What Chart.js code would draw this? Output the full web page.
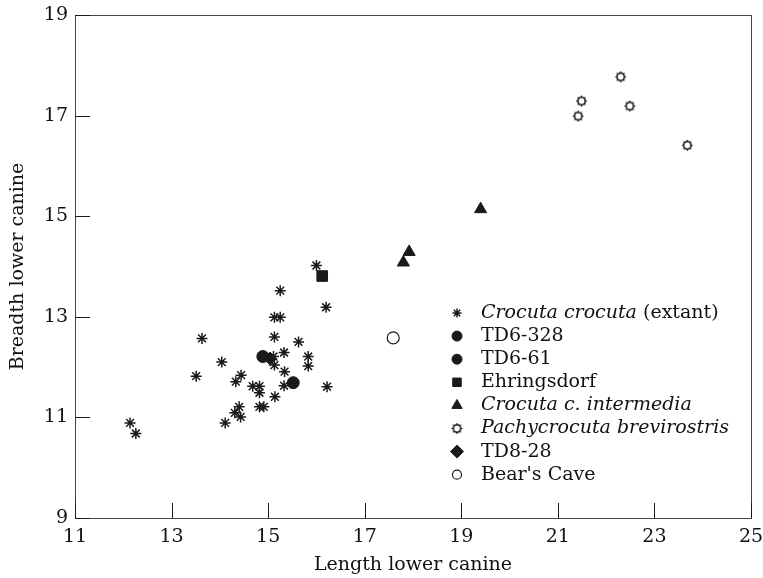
<!DOCTYPE html>
<html>
<head>
<meta charset="utf-8">
<script src="https://cdn.jsdelivr.net/npm/chart.js@4.4.0/dist/chart.umd.min.js"></script>
<style>
  html, body { margin: 0; padding: 0; background: #fff; }
  #wrap { width: 763px; height: 578px; position: relative; }
</style>
</head>
<body>
<div id="wrap"><canvas id="scatterChart"></canvas></div>
<script>
// tick labels
const xTicks = [11, 13, 15, 17, 19, 21, 23, 25];
const yTicks = [9, 11, 13, 15, 17, 19];

// Crocuta crocuta (extant)
const crocutaX = [16.0, 15.25, 16.2, 15.13, 15.25, 13.63, 15.13, 15.63, 15.33, 15.11, 15.13, 15.83, 15.83, 14.04, 15.34, 13.51,
  14.44, 14.33, 14.68, 14.82, 14.82, 15.33, 16.22, 15.14, 14.82, 14.91, 14.4, 14.31, 14.43, 14.11, 12.14, 12.26];
const crocutaY = [14.02, 13.52, 13.19, 12.99, 12.99, 12.57, 12.6, 12.5, 12.29, 12.21, 12.04, 12.21, 12.02, 12.1, 11.91, 11.82,
  11.84, 11.71, 11.62, 11.62, 11.49, 11.63, 11.61, 11.41, 11.21, 11.21, 11.21, 11.09, 11.01, 10.89, 10.89, 10.68];

const td6328X = [14.89];
const td6328Y = [12.21];
const td661X = [15.52];
const td661Y = [11.69];
const ehringsdorfX = [16.12];
const ehringsdorfY = [13.81];
const intermediaX = [17.92, 17.8, 19.4];
const intermediaY = [14.29, 14.08, 15.14];
const pachyX = [22.3, 21.49, 22.49, 21.42, 23.68];
const pachyY = [17.77, 17.29, 17.19, 16.99, 16.41];
const td828X = [15.04];
const td828Y = [12.17];
const bearsCaveX = [17.59];
const bearsCaveY = [12.58];

// legend text, [text, italic] pieces
const legendText = [
  [['Crocuta crocuta', true], [' (extant)', false]],
  [['TD6-328', false]],
  [['TD6-61', false]],
  [['Ehringsdorf', false]],
  [['Crocuta c. intermedia', true]],
  [['Pachycrocuta brevirostris', true]],
  [['TD8-28', false]],
  [["Bear's Cave", false]]
];

const ink = '#1a1a1a';
const fontFamily = '"DejaVu Serif", serif';
const fontSize = 19;

const zip = (xs, ys) => xs.map((x, i) => ({ x: x, y: ys[i] }));

const makeSunMarker = () => {
  const c = document.createElement('canvas');
  c.width = 13;
  c.height = 13;
  const g = c.getContext('2d');
  g.fillStyle = '#fff';
  g.strokeStyle = ink;
  g.lineWidth = 1.6;
  g.beginPath();
  g.arc(6.5, 6.5, 3.7, 0, Math.PI * 2);
  g.fill();
  g.stroke();
  g.lineWidth = 1.2;
  for (let k = 0; k < 8; k++) {
    const a = k * Math.PI / 4;
    g.beginPath();
    g.moveTo(6.5 + Math.cos(a) * 3.7, 6.5 + Math.sin(a) * 3.7);
    g.lineTo(6.5 + Math.cos(a) * 5.5, 6.5 + Math.sin(a) * 5.5);
    g.stroke();
  }
  return c;
};
const sunMarker = makeSunMarker();

const series = (label, data, style, radius, legendRadius, filled = true, borderWidth = 1) => ({
  label: label,
  data: data,
  pointStyle: style,
  pointRadius: radius,
  legendRadius: legendRadius,
  pointBackgroundColor: filled ? ink : '#fff',
  pointBorderColor: ink,
  pointBorderWidth: borderWidth,
  showLine: false
});

const datasets = [
  series('Crocuta crocuta (extant)', zip(crocutaX, crocutaY), 'star', 5.5, 4.5, true, 1.5),
  series('TD6-328', zip(td6328X, td6328Y), 'circle', 6, 5),
  series('TD6-61', zip(td661X, td661Y), 'circle', 6, 5),
  series('Ehringsdorf', zip(ehringsdorfX, ehringsdorfY), 'rect', 7.5, 6),
  series('Crocuta c. intermedia', zip(intermediaX, intermediaY), 'triangle', 7, 6),
  series('Pachycrocuta brevirostris', zip(pachyX, pachyY), sunMarker, 5, 5, false),
  series('TD8-28', zip(td828X, td828Y), 'rectRot', 6.5, 6.5),
  series("Bear's Cave", zip(bearsCaveX, bearsCaveY), 'circle', 6, 4.5, false, 1.2)
];

// inward ticks, box frame and the mixed italic legend
const framePlugin = {
  id: 'frame',
  afterDatasetsDraw(chart) {
    const { ctx, chartArea: a, scales } = chart;
    ctx.save();
    ctx.strokeStyle = '#444';
    ctx.lineWidth = 1;
    ctx.strokeRect(a.left + 0.5, a.top + 0.5, a.right - a.left, a.bottom - a.top);
    ctx.strokeStyle = ink;
    ctx.beginPath();
    xTicks.forEach(v => {
      const px = Math.round(scales.x.getPixelForValue(v)) + 0.5;
      ctx.moveTo(px, a.bottom);
      ctx.lineTo(px, a.bottom - 15);
    });
    yTicks.forEach(v => {
      const py = Math.round(scales.y.getPixelForValue(v)) + 0.5;
      ctx.moveTo(a.left, py);
      ctx.lineTo(a.left + 15, py);
    });
    ctx.stroke();

    // legend
    const markX = 457, textX = 481, startY = 313, rowGap = 23.1;
    ctx.textBaseline = 'middle';
    chart.data.datasets.forEach((ds, i) => {
      const y = startY + i * rowGap;
      ctx.fillStyle = ds.pointBackgroundColor;
      ctx.strokeStyle = ds.pointBorderColor;
      ctx.lineWidth = ds.pointBorderWidth;
      Chart.helpers.drawPoint(ctx, { pointStyle: ds.pointStyle, radius: ds.legendRadius, borderWidth: ds.pointBorderWidth, rotation: 0 }, markX, y);
      let x = textX;
      ctx.fillStyle = '#111';
      legendText[i].forEach(([txt, italic]) => {
        ctx.font = (italic ? 'italic ' : '') + fontSize + 'px ' + fontFamily;
        ctx.fillText(txt, x, y);
        x += ctx.measureText(txt).width;
      });
    });
    ctx.restore();
  }
};

const tickFont = { family: fontFamily, size: fontSize };

new Chart(document.getElementById('scatterChart').getContext('2d'), {
  type: 'scatter',
  data: { datasets: datasets },
  options: {
    responsive: true,
    maintainAspectRatio: false,
    animation: false,
    layout: { padding: { top: 15, right: 0, left: 0, bottom: 0 } },
    plugins: {
      legend: { display: false },
      tooltip: { enabled: false }
    },
    scales: {
      x: {
        type: 'linear',
        min: 11,
        max: 25,
        afterBuildTicks: s => { s.ticks = xTicks.map(v => ({ value: v })); },
        afterFit: s => { s.height = 60; s.paddingLeft = 0; s.paddingRight = 12; },
        grid: { display: false, drawTicks: false },
        border: { display: false },
        ticks: { color: '#111', font: tickFont, padding: 8, maxRotation: 0 },
        title: { display: true, text: 'Length lower canine', color: '#111', font: tickFont, padding: { top: 0, bottom: 2 } }
      },
      y: {
        type: 'linear',
        min: 9,
        max: 19,
        afterBuildTicks: s => { s.ticks = yTicks.map(v => ({ value: v })); },
        afterFit: s => { s.width = 75; s.paddingTop = 0; s.paddingBottom = 0; },
        grid: { display: false, drawTicks: false },
        border: { display: false },
        ticks: { color: '#111', font: tickFont, padding: 7 },
        title: { display: true, text: 'Breadth lower canine', color: '#111', font: tickFont, padding: { top: 7, bottom: 0 } }
      }
    }
  },
  plugins: [framePlugin]
});
</script>
</body>
</html>
